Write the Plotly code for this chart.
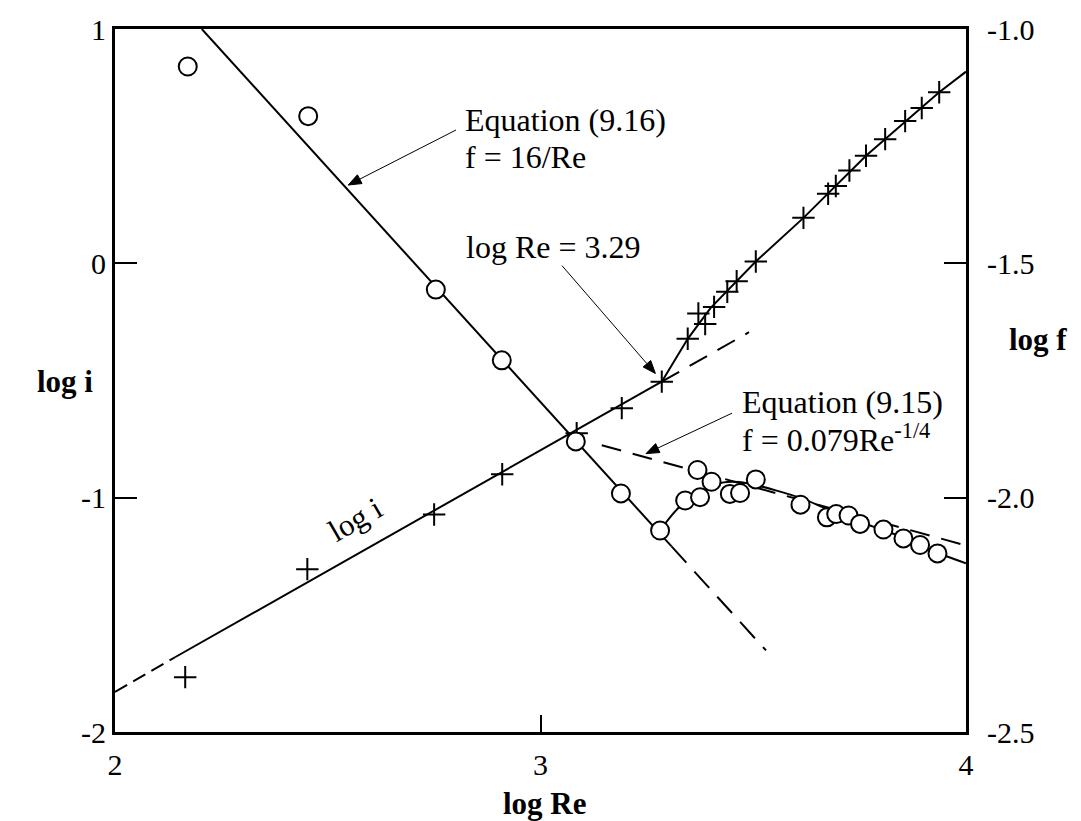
import math
import plotly.graph_objects as go

# ---------------- data ----------------
# log i data points (+ markers, left axis)
plus_logRe = [2.165, 2.452, 2.750, 2.910, 3.085, 3.191, 3.285, 3.346, 3.371, 3.387,
              3.408, 3.439, 3.461, 3.506, 3.618, 3.676, 3.694, 3.726, 3.765, 3.810,
              3.857, 3.896, 3.937]
plus_logi = [-1.766, -1.305, -1.072, -0.900, -0.725, -0.618, -0.505, -0.322, -0.214, -0.259,
             -0.186, -0.121, -0.076, 0.008, 0.194, 0.297, 0.330, 0.396, 0.459, 0.530,
             0.607, 0.663, 0.730]

# log f data points (o markers, right axis)
circ_logRe = [2.171, 2.454, 2.754, 2.909, 3.083, 3.189, 3.281, 3.340, 3.369, 3.375,
              3.402, 3.445, 3.469, 3.506, 3.611, 3.673, 3.695, 3.724, 3.751, 3.806,
              3.853, 3.892, 3.933]
circ_logf = [-1.080, -1.186, -1.556, -1.707, -1.880, -1.991, -2.070, -2.006, -1.941, -1.999,
             -1.966, -1.992, -1.990, -1.961, -2.015, -2.042, -2.035, -2.038, -2.056, -2.068,
             -2.087, -2.101, -2.119]

# laminar log i line
lami_dash_left_x = [2.0, 2.141]
lami_dash_left_y = [-1.829, -1.681]
lami_solid_x = [2.141, 3.285]
lami_solid_y = [-1.681, -0.505]
lami_dash_right_x = [3.285, 3.490]
lami_dash_right_y = [-0.505, -0.294]

# turbulent log i line
turbi_x = [3.285, 3.346, 3.400, 3.506, 3.618, 3.765, 3.937, 4.0]
turbi_y = [-0.505, -0.322, -0.190, 0.008, 0.194, 0.459, 0.730, 0.818]

# Equation (9.16) f = 16/Re  (log f)
eq916_solid_x = [2.204, 3.308]
eq916_solid_y = [-1.000, -2.104]
eq916_dash_x = [3.308, 3.530]
eq916_dash_y = [-2.104, -2.326]

# Equation (9.15) f = 0.079 Re^-1/4 (log f)
eq915_x = [3.144, 4.0]
eq915_y = [-1.888, -2.102]

# transition / turbulent log f curve
transf_x = [3.281, 3.330, 3.375, 3.410, 3.450, 3.485, 3.555, 3.618, 3.673, 3.751,
            3.829, 3.908, 4.0]
transf_y = [-2.070, -2.017, -1.993, -1.972, -1.966, -1.969, -1.985, -2.003, -2.024, -2.052,
            -2.077, -2.109, -2.140]

xticks = [2, 3, 4]
xtick_text = ['2', '3', '4']
yticks = [-2, -1, 0, 1]
ytick_text = ['-2', '-1', '0', '1']
y2ticks = [-2.5, -2.0, -1.5, -1.0]
y2tick_text = ['-2.5', '-2.0', '-1.5', '-1.0']

# ---------------- layout geometry ----------------
W, H = 1081, 821
L, R, T, B = 115, 966, 22, 732
FONT = 'Liberation Serif'
XR = [2, 4]
YR = [-2, 1]
Y2R = [-2.5, -1.0]


def xp(px):
    return (px - L) / (R - L)


def yp(py):
    return (B - py) / (B - T)


def data_px(x):
    return L + (x - XR[0]) / (XR[1] - XR[0]) * (R - L)


def data_py(y, rng):
    return T + (rng[1] - y) / (rng[1] - rng[0]) * (B - T)


fig = go.Figure()

line_black = dict(color='black', width=2)

fig.add_trace(go.Scatter(x=lami_dash_left_x, y=lami_dash_left_y, mode='lines',
                         line=dict(color='black', width=2, dash='14px,7px'), yaxis='y'))
fig.add_trace(go.Scatter(x=lami_solid_x, y=lami_solid_y, mode='lines', line=line_black, yaxis='y'))
fig.add_trace(go.Scatter(x=lami_dash_right_x, y=lami_dash_right_y, mode='lines',
                         line=dict(color='black', width=2, dash='20px,12px'), yaxis='y'))
fig.add_trace(go.Scatter(x=turbi_x, y=turbi_y, mode='lines', line=line_black, yaxis='y'))
fig.add_trace(go.Scatter(x=plus_logRe, y=plus_logi, mode='markers',
                         marker=dict(symbol='cross-thin-open', size=16, color='black',
                                     line=dict(color='black', width=2)), yaxis='y'))

fig.add_trace(go.Scatter(x=eq916_solid_x, y=eq916_solid_y, mode='lines', line=line_black, yaxis='y2'))
fig.add_trace(go.Scatter(x=eq916_dash_x, y=eq916_dash_y, mode='lines',
                         line=dict(color='black', width=2, dash='22px,12px'), yaxis='y2'))
fig.add_trace(go.Scatter(x=eq915_x, y=eq915_y, mode='lines',
                         line=dict(color='black', width=2, dash='20px,12px'), yaxis='y2'))
fig.add_trace(go.Scatter(x=transf_x, y=transf_y, mode='lines', line=dict(color='black', width=2, shape='spline'),
                         yaxis='y2'))
fig.add_trace(go.Scatter(x=circ_logRe, y=circ_logf, mode='markers',
                         marker=dict(symbol='circle', size=18, color='white',
                                     line=dict(color='black', width=2)), yaxis='y2'))

# ---------------- annotations ----------------
annotations = []


def text_ann(px, baseline, text, size=32, bold=False, xanchor='left', angle=0):
    annotations.append(dict(
        x=xp(px), y=yp(baseline - 0.30 * size), xref='paper', yref='paper',
        xanchor=xanchor, yanchor='middle', text=text, showarrow=False, textangle=angle,
        font=dict(family=FONT, size=size, color='black', weight='bold' if bold else 'normal')))


text_ann(463, 124, 'Equation (9.16)')
text_ann(463, 161, 'f = 16/Re')
text_ann(464, 252, 'log Re = 3.29')
text_ann(740, 408, 'Equation (9.15)')
text_ann(740, 445, 'f = 0.079Re<sup>-1/4</sup>')

annotations.append(dict(x=xp(355), y=yp(517), xref='paper', yref='paper', xanchor='center',
                        yanchor='middle', text='log i', showarrow=False, textangle=-30,
                        font=dict(family=FONT, size=31, color='black')))

# axis labels
annotations.append(dict(x=xp(65), y=yp(378), xref='paper', yref='paper', xanchor='center',
                        yanchor='middle', text='log i', showarrow=False,
                        font=dict(family=FONT, size=31, color='black', weight='bold')))
annotations.append(dict(x=xp(1038), y=yp(336), xref='paper', yref='paper', xanchor='center',
                        yanchor='middle', text='log f', showarrow=False,
                        font=dict(family=FONT, size=31, color='black', weight='bold')))
annotations.append(dict(x=xp(545), y=yp(804), xref='paper', yref='paper', xanchor='center',
                        yanchor='middle', text='log Re', showarrow=False,
                        font=dict(family=FONT, size=31, color='black', weight='bold')))

# ---------------- arrows (shapes) ----------------
shapes = []


def arrow(tail_px, tail_py, tip_x, tip_y, rng, head_len=13, head_half=5):
    tx = data_px(tip_x)
    ty = data_py(tip_y, rng)
    dx = tx - tail_px
    dy = ty - tail_py
    d = math.hypot(dx, dy)
    ux, uy = dx / d, dy / d
    bx, by = tx - ux * head_len, ty - uy * head_len
    nx, ny = -uy, ux
    shapes.append(dict(type='line', xref='paper', yref='paper',
                       x0=xp(tail_px), y0=yp(tail_py), x1=xp(bx), y1=yp(by),
                       line=dict(color='black', width=1)))
    p1 = (bx + nx * head_half, by + ny * head_half)
    p2 = (bx - nx * head_half, by - ny * head_half)
    path = 'M {:.5f},{:.5f} L {:.5f},{:.5f} L {:.5f},{:.5f} Z'.format(
        xp(tx), yp(ty), xp(p1[0]), yp(p1[1]), xp(p2[0]), yp(p2[1]))
    shapes.append(dict(type='path', xref='paper', yref='paper', path=path,
                       fillcolor='black', line=dict(color='black', width=1)))


arrow(456, 124, 2.548, -1.333, Y2R)
arrow(562, 261, 3.270, -0.470, YR)
arrow(732, 410, 3.248, -1.906, Y2R)

tickfont = dict(family=FONT, size=30, color='black')
axis_common = dict(showline=True, linewidth=3, linecolor='black', ticks='inside',
                   tickwidth=2, tickcolor='black', tickmode='array', tickfont=tickfont,
                   showgrid=False, zeroline=False)

fig.update_layout(
    width=W, height=H, autosize=False,
    margin=dict(l=L, r=W - R, t=T, b=H - B, pad=0),
    paper_bgcolor='white', plot_bgcolor='white',
    showlegend=False,
    xaxis=dict(range=XR, mirror=True, ticklen=17, tickvals=xticks, ticktext=xtick_text,
               ticklabelstandoff=4, **axis_common),
    yaxis=dict(range=YR, side='left', ticklen=22, tickvals=yticks, ticktext=ytick_text,
               ticklabelstandoff=0, **axis_common),
    yaxis2=dict(range=Y2R, side='right', overlaying='y', ticklen=22, tickvals=y2ticks,
                ticktext=y2tick_text, ticklabelstandoff=12, **axis_common),
    annotations=annotations,
    shapes=shapes,
)

fig.write_html("out.html", config={'displayModeBar': False},
               post_script="document.body.style.margin='0';document.body.style.overflow='hidden';")
